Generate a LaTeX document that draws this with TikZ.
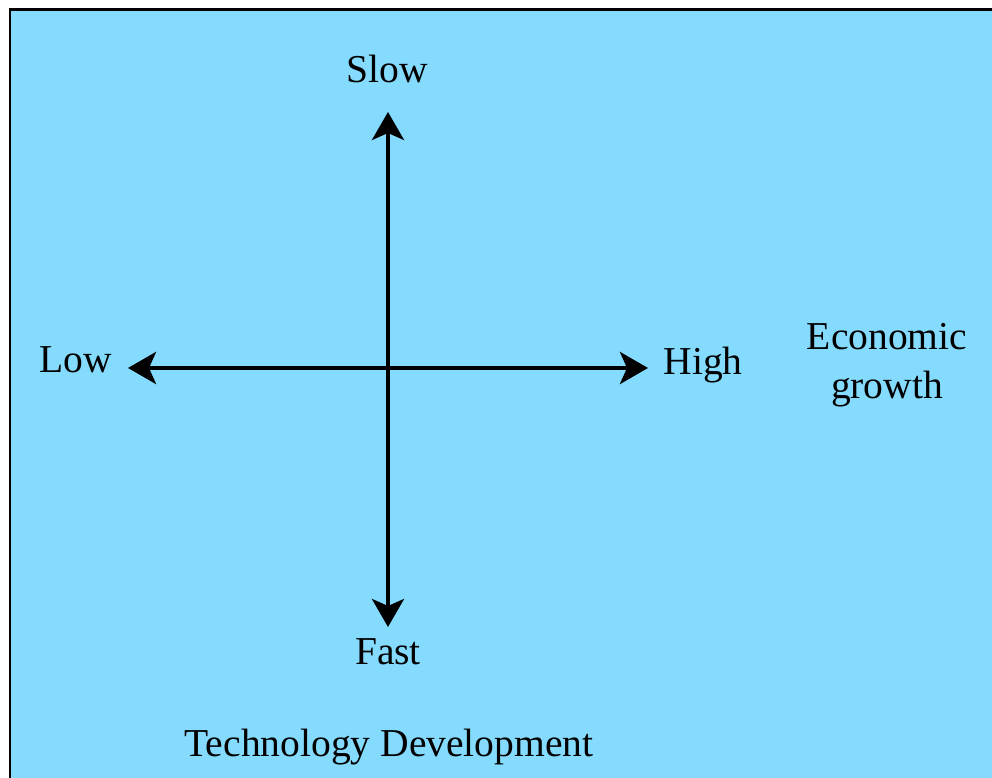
\documentclass[tikz,border=0pt]{standalone}
\usepackage{fontspec}
\setmainfont{Liberation Serif}
\usetikzlibrary{arrows.meta}
\definecolor{skyfill}{HTML}{84DBFD}
\tikzset{
  axisarrow/.style={line width=0.08cm,-{Stealth[length=0.56cm,width=0.64cm,inset=0.14cm]}},
  lbl/.style={inner sep=0pt,anchor=base}
}
\begin{document}
\begin{tikzpicture}[x=0.02cm,y=0.02cm]\fontsize{22.5}{27.8}\selectfont
\useasboundingbox (0,0) rectangle (992,778);
\fill[white] (0,0) rectangle (992,778);
\fill[color=skyfill] (10,0) rectangle (992,768);
\draw[line width=0.06cm] (10,0) -- (10,768) -- (992,768);
\coordinate (o) at (388,410);
\coordinate (top) at (388,666);
\coordinate (bottom) at (388,151);
\coordinate (left) at (128,410);
\coordinate (right) at (648,410);
\draw[axisarrow] (o) -- (top);
\draw[axisarrow] (o) -- (bottom);
\draw[axisarrow] (o) -- (left);
\draw[axisarrow] (o) -- (right);
\node[lbl] (slow) at (387,695) {Slow};
\node[lbl] (fast) at (388,113) {Fast};
\node[lbl] (low) at (76,405) {Low};
\node[lbl] (high) at (703,403) {High};
\node[inner sep=0pt,anchor=north,align=center] (econ) at (887,455) {Economic\\growth};
\node[lbl] (tech) at (389,21) {Technology Development};
\end{tikzpicture}
\end{document}
